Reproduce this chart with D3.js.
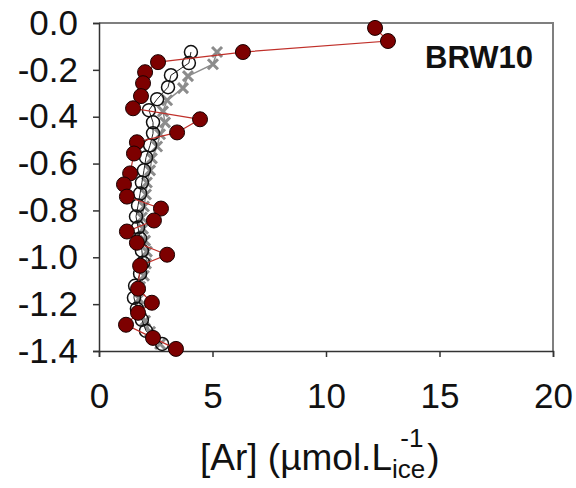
<!DOCTYPE html>
<html>
<head>
<meta charset="utf-8">
<script src="https://cdn.jsdelivr.net/npm/d3@7"></script>
<style>
  body { margin: 0; background: #fff; }
  text { font-family: Arial, "Liberation Sans", sans-serif; }
</style>
</head>
<body>
<script>
// red filled circles: [Ar] and depth
var redAr = [12.16, 12.73, 6.34, 2.60, 2.03, 1.94, 1.85, 1.50, 4.45, 3.44, 1.67, 1.54, 1.37, 1.10,
             1.23, 2.73, 2.42, 1.23, 1.67, 3.00, 1.81, 1.72, 2.33, 1.72, 1.19, 2.38, 3.39];
var redDepth = [-0.021, -0.077, -0.124, -0.167, -0.210, -0.257, -0.312, -0.364, -0.411, -0.467, -0.509,
                -0.557, -0.642, -0.689, -0.741, -0.792, -0.843, -0.890, -0.938, -0.989, -1.036, -1.134,
                -1.194, -1.237, -1.288, -1.344, -1.391];
// open circles
var openAr = [4.05, 3.96, 3.17, 3.04, 2.56, 2.20, 2.38, 2.38, 2.25, 2.07, 1.98, 1.89, 1.81,
              1.72, 1.63, 1.72, 1.81, 1.89, 1.94, 1.81, 1.59, 1.54, 1.67, 1.89, 2.07, 2.78];
var openDepth = [-0.124, -0.171, -0.223, -0.274, -0.325, -0.372, -0.424, -0.471, -0.522, -0.574,
                 -0.629, -0.681, -0.728, -0.779, -0.826, -0.873, -0.920, -0.972, -1.023, -1.070,
                 -1.122, -1.173, -1.220, -1.267, -1.314, -1.370];
// grey crosses
var crossAr = [5.20, 5.02, 3.92, 3.70, 3.00, 2.82, 2.91, 2.69, 2.56, 2.33, 2.25, 2.11, 2.07,
               1.98, 1.89, 1.94, 2.03, 2.11, 2.07, 1.98, 1.81, 1.76, 1.85, 2.03, 2.25, 2.69];
var crossDepth = [-0.124, -0.176, -0.227, -0.278, -0.330, -0.377, -0.424, -0.475, -0.527, -0.578,
                  -0.629, -0.681, -0.732, -0.783, -0.830, -0.878, -0.929, -0.976, -1.027, -1.079,
                  -1.126, -1.177, -1.224, -1.271, -1.318, -1.370];

var xTicks = [0, 5, 10, 15, 20];
var yTicks = [0, -0.2, -0.4, -0.6, -0.8, -1.0, -1.2, -1.4];
var siteLabel = 'BRW10';

// plot box (window.top is reserved, so use p_* names)
var W = 576, H = 488,
    p_left = 99, p_top = 23, p_right = 553, p_bottom = 351;

var svg = d3.select('body').append('svg')
  .attr('width', W)
  .attr('height', H);

var x = d3.scaleLinear().domain([0, 20]).range([p_left, p_right]);
var y = d3.scaleLinear().domain([-1.4, 0]).range([p_bottom, p_top]);

// frame (grey top and right)
svg.append('path')
  .attr('d', 'M' + p_left + ',' + p_top + 'H' + p_right + 'V' + p_bottom)
  .attr('fill', 'none')
  .attr('stroke', '#7f7f7f')
  .attr('stroke-width', 2);

// axes
var yAxis = svg.append('g')
  .attr('transform', 'translate(' + p_left + ',0)')
  .call(d3.axisLeft(y).tickValues(yTicks).tickSize(6).tickPadding(15)
    .tickFormat(function(d) { return d3.format('.1f')(d).replace('−', '-'); }));
var xAxis = svg.append('g')
  .attr('transform', 'translate(0,' + p_bottom + ')')
  .call(d3.axisBottom(x).tickValues(xTicks).tickSize(6));

[yAxis, xAxis].forEach(function(a) {
  a.select('.domain').attr('stroke', '#333').attr('stroke-width', 1.5);
  a.selectAll('.tick line').attr('stroke', '#333').attr('stroke-width', 1.5);
  a.selectAll('.tick text').attr('font-size', 35).attr('fill', '#111')
    .attr('font-family', 'Arial, "Liberation Sans", sans-serif');
});
xAxis.selectAll('.tick text').attr('dy', '0.71em').attr('y', 32);

function pts(xs, ys) {
  return xs.map(function(v, i) { return [x(v), y(ys[i])]; });
}
var line = d3.line();

// grey crosses
var cp = pts(crossAr, crossDepth);
svg.append('path').attr('d', line(cp))
  .attr('fill', 'none').attr('stroke', '#8c8c8c').attr('stroke-width', 1.5);
svg.append('g').selectAll('path').data(cp).enter().append('path')
  .attr('d', function(d) {
    var s = 5;
    return 'M' + (d[0] - s) + ',' + (d[1] - s) + 'L' + (d[0] + s) + ',' + (d[1] + s) +
           'M' + (d[0] - s) + ',' + (d[1] + s) + 'L' + (d[0] + s) + ',' + (d[1] - s);
  })
  .attr('stroke', '#8c8c8c').attr('stroke-width', 3);

// open circles
var op = pts(openAr, openDepth);
svg.append('path').attr('d', line(op))
  .attr('fill', 'none').attr('stroke', '#222').attr('stroke-width', 1);
svg.append('g').selectAll('circle').data(op).enter().append('circle')
  .attr('cx', function(d) { return d[0]; })
  .attr('cy', function(d) { return d[1]; })
  .attr('r', 6.5)
  .attr('fill', 'none')
  .attr('stroke', '#111')
  .attr('stroke-width', 1.5);

// red circles
var rp = pts(redAr, redDepth);
svg.append('path').attr('d', line(rp))
  .attr('fill', 'none').attr('stroke', '#c0302a').attr('stroke-width', 1.2);
svg.append('g').selectAll('circle').data(rp).enter().append('circle')
  .attr('cx', function(d) { return d[0]; })
  .attr('cy', function(d) { return d[1]; })
  .attr('r', 7.5)
  .attr('fill', '#7d0000')
  .attr('stroke', '#1a0000')
  .attr('stroke-width', 1);

// site label
svg.append('text')
  .attr('x', 533).attr('y', 68)
  .attr('text-anchor', 'end')
  .attr('font-size', 31)
  .attr('font-weight', 'bold')
  .attr('fill', '#111')
  .text(siteLabel);

// axis title: main text, subscript "ice", superscript "-1" stacked above it
var title = svg.append('text')
  .attr('x', 200).attr('y', 470)
  .attr('font-size', 37)
  .attr('fill', '#111');
title.append('tspan').text('[Ar] (µmol.L');
title.append('tspan').attr('font-size', 26).attr('dy', 8).text('ice');
title.append('tspan').attr('font-size', 26).attr('dx', -25).attr('dy', -31).text('-1');
title.append('tspan').attr('dx', 4).attr('dy', 23).text(')');
</script>
</body>
</html>
